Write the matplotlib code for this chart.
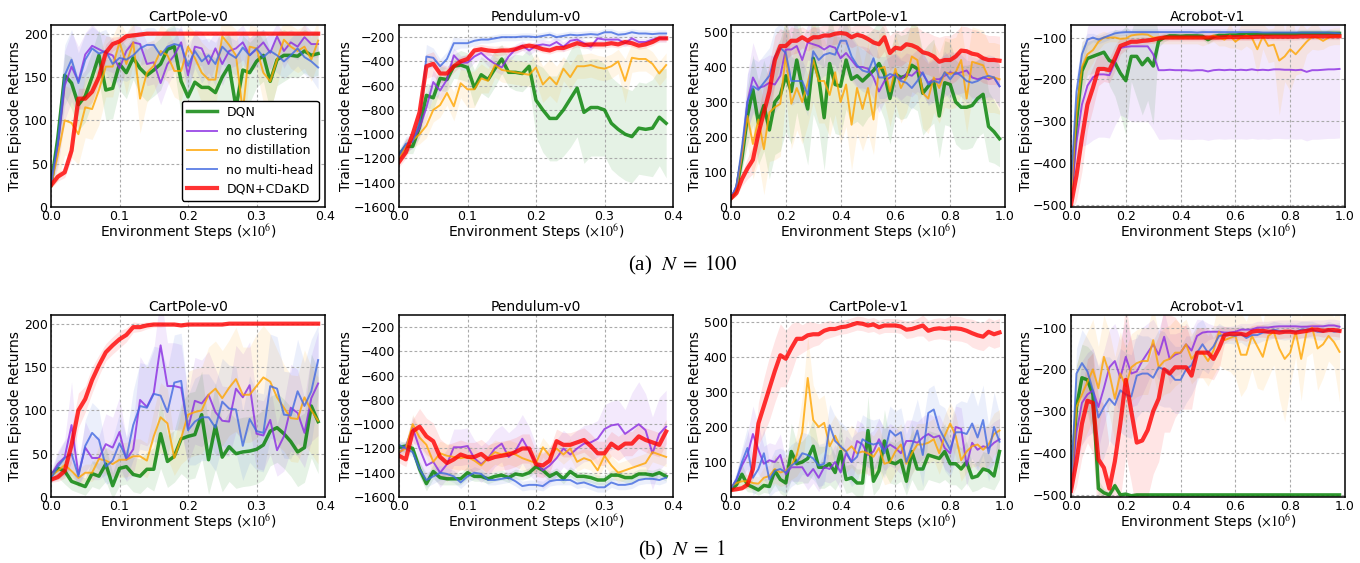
import numpy as np
import matplotlib
matplotlib.use('Agg')
from matplotlib import pyplot as plt

plt.rcParams['mathtext.fontset'] = 'stix'

labels = ['DQN', 'no clustering', 'no distillation', 'no multi-head', 'DQN+CDaKD']
colors = ['green', 'blueviolet', 'orange', 'royalblue', 'red']
widths = [2.5, 1.4, 1.4, 1.4, 3.0]

# ---------------- N = 100 ----------------
# CartPole-v0 (steps 0..0.39, every 0.01)
cp0_a_dqn = [25, 80, 152, 143, 118, 128, 150, 175, 135, 137,
             165, 155, 172, 160, 152, 158, 165, 182, 185, 145,
             127, 144, 138, 138, 132, 150, 163, 115, 158, 155,
             168, 175, 145, 170, 175, 175, 174, 180, 175, 177]
cp0_a_noclu = [25, 70, 140, 162, 145, 176, 186, 182, 178, 175,
               160, 180, 190, 188, 165, 167, 143, 165, 175, 190,
               152, 185, 183, 165, 183, 165, 180, 183, 190, 175,
               182, 190, 178, 197, 180, 190, 185, 196, 188, 188]
cp0_a_nodis = [25, 60, 100, 97, 84, 115, 113, 135, 162, 162,
               190, 165, 190, 125, 155, 163, 180, 175, 157, 157,
               185, 172, 155, 147, 147, 197, 187, 175, 110, 185,
               183, 155, 145, 170, 193, 185, 180, 185, 170, 192]
cp0_a_nomh = [25, 75, 152, 170, 143, 170, 183, 177, 180, 165,
              172, 170, 175, 183, 187, 187, 175, 185, 188, 186,
              163, 180, 168, 175, 165, 185, 177, 172, 184, 175,
              183, 173, 180, 175, 168, 175, 183, 173, 168, 161]
cp0_a_cdakd = [25, 35, 40, 65, 125, 125, 133, 150, 178, 188,
               191, 197, 198, 199, 200, 200, 200, 200, 200, 200,
               200, 200, 200, 200, 200, 200, 200, 200, 200, 200,
               200, 200, 200, 200, 200, 200, 200, 200, 200, 200]
cp0_a_dqn_sd = [3, 20, 25, 30, 30, 30, 30, 30, 35, 35,
                30, 30, 25, 30, 30, 30, 30, 25, 25, 40,
                40, 40, 40, 40, 40, 45, 40, 50, 40, 35,
                30, 30, 35, 30, 30, 25, 25, 25, 25, 25]
cp0_a_noclu_sd = [3, 25, 40, 40, 40, 25, 25, 20, 20, 20,
                  25, 20, 20, 20, 25, 25, 25, 25, 20, 20,
                  25, 20, 20, 25, 20, 25, 20, 20, 20, 20,
                  20, 15, 20, 15, 20, 15, 15, 15, 15, 15]
cp0_a_nodis_sd = [3, 30, 40, 40, 35, 35, 35, 40, 35, 35,
                  25, 35, 25, 40, 35, 30, 30, 30, 30, 35,
                  25, 30, 35, 35, 35, 20, 25, 30, 45, 25,
                  25, 35, 35, 30, 20, 25, 25, 25, 25, 25]
cp0_a_nomh_sd = [3, 25, 35, 35, 35, 30, 25, 25, 25, 25,
                 25, 25, 25, 20, 20, 20, 25, 20, 20, 20,
                 25, 20, 25, 20, 25, 20, 20, 20, 20, 20,
                 20, 20, 20, 20, 20, 20, 20, 20, 20, 25]
cp0_a_cdakd_sd = [3, 5, 6, 10, 12, 12, 12, 12, 10, 8,
                  6, 4, 3, 2, 2, 1, 1, 1, 1, 1,
                  1, 1, 1, 1, 1, 1, 1, 1, 1, 1,
                  1, 1, 1, 1, 1, 1, 1, 1, 1, 1]

# Pendulum-v0
pend_a_dqn = [-1170, -1100, -1100, -940, -680, -700, -540, -550, -440, -430,
              -450, -620, -510, -550, -460, -380, -490, -490, -500, -440,
              -720, -800, -870, -870, -800, -710, -620, -820, -780, -780,
              -800, -910, -960, -1000, -1020, -950, -960, -950, -860, -910]
pend_a_noclu = [-1190, -1100, -1050, -950, -780, -570, -640, -550, -350, -410,
                -410, -360, -330, -380, -420, -450, -360, -300, -270, -310,
                -270, -260, -270, -240, -280, -230, -220, -250, -280, -210,
                -220, -220, -220, -250, -210, -240, -240, -220, -210, -210]
pend_a_nodis = [-1200, -1100, -1050, -1000, -930, -800, -760, -660, -770, -580,
                -630, -630, -540, -560, -430, -470, -480, -490, -500, -510,
                -450, -590, -530, -590, -460, -530, -440, -440, -430, -450,
                -460, -440, -400, -560, -370, -380, -380, -420, -500, -430]
pend_a_nomh = [-1170, -1080, -1060, -900, -360, -370, -440, -380, -250, -250,
               -250, -230, -220, -220, -210, -200, -200, -200, -195, -195,
               -200, -190, -180, -200, -190, -180, -185, -180, -175, -180,
               -160, -160, -180, -175, -160, -170, -170, -175, -170, -170]
pend_a_cdakd = [-1230, -1150, -1000, -820, -440, -420, -500, -500, -440, -400,
                -380, -310, -300, -310, -315, -310, -310, -300, -280, -270,
                -280, -300, -310, -290, -290, -270, -250, -265, -260, -260,
                -260, -250, -260, -240, -250, -270, -260, -240, -210, -210]
pend_a_dqn_sd = [40, 60, 60, 80, 100, 100, 100, 100, 100, 120,
                 120, 150, 150, 150, 150, 120, 120, 150, 150, 150,
                 300, 350, 350, 350, 380, 400, 400, 420, 400, 400,
                 380, 380, 380, 380, 380, 380, 380, 400, 400, 450]
pend_a_noclu_sd = [40, 60, 60, 80, 100, 100, 80, 80, 60, 60,
                   60, 50, 50, 60, 60, 60, 50, 40, 40, 40,
                   40, 40, 40, 40, 40, 30, 30, 30, 30, 30,
                   30, 30, 30, 30, 30, 30, 30, 30, 30, 30]
pend_a_nodis_sd = [40, 60, 60, 80, 100, 100, 100, 100, 120, 120,
                   150, 150, 120, 100, 100, 100, 100, 100, 100, 100,
                   120, 150, 150, 150, 100, 100, 100, 100, 100, 100,
                   100, 100, 100, 180, 120, 100, 100, 100, 100, 100]
pend_a_nomh_sd = [40, 60, 60, 80, 100, 80, 60, 60, 60, 40,
                  40, 40, 30, 30, 30, 30, 30, 30, 30, 30,
                  30, 30, 30, 30, 30, 30, 30, 30, 30, 30,
                  30, 30, 30, 30, 30, 30, 30, 30, 30, 30]
pend_a_cdakd_sd = [40, 50, 60, 80, 100, 100, 80, 60, 50, 40,
                   40, 40, 40, 40, 40, 40, 30, 30, 30, 30,
                   30, 30, 30, 30, 30, 30, 30, 30, 30, 30,
                   30, 30, 30, 30, 30, 30, 30, 30, 30, 30]

# CartPole-v1 (steps 0..0.98, every 0.02)
cp1_a_dqn = [25, 50, 140, 260, 335, 240, 290, 220, 300, 320,
             375, 330, 420, 340, 280, 425, 370, 255, 410, 350,
             345, 420, 365, 375, 360, 375, 390, 410, 380, 310,
             380, 370, 375, 405, 395, 325, 345, 360, 260, 355,
             350, 300, 285, 285, 290, 310, 322, 230, 215, 195]
cp1_a_noclu = [25, 60, 150, 300, 370, 340, 345, 355, 350, 375,
               450, 450, 460, 420, 470, 465, 460, 450, 460, 455,
               425, 440, 420, 400, 400, 395, 370, 330, 360, 370,
               380, 365, 380, 375, 390, 380, 355, 365, 365, 375,
               385, 380, 385, 390, 370, 365, 370, 365, 370, 345]
cp1_a_nodis = [25, 50, 150, 260, 180, 250, 165, 270, 285, 295,
               435, 295, 340, 300, 355, 420, 360, 360, 320, 385,
               300, 350, 235, 340, 280, 340, 250, 395, 400, 330,
               395, 340, 370, 430, 420, 325, 310, 370, 340, 385,
               380, 385, 420, 310, 415, 410, 405, 370, 370, 365]
cp1_a_nomh = [25, 60, 170, 300, 345, 335, 355, 375, 430, 455,
              440, 360, 360, 360, 320, 445, 420, 435, 440, 435,
              475, 475, 430, 405, 390, 385, 425, 370, 370, 380,
              375, 360, 355, 340, 360, 385, 350, 360, 355, 385,
              365, 385, 375, 360, 355, 360, 370, 375, 370, 345]
cp1_a_cdakd = [25, 40, 80, 110, 135, 210, 270, 330, 420, 460,
               460, 475, 475, 485, 475, 485, 485, 490, 490, 495,
               497, 495, 485, 492, 488, 480, 470, 465, 485, 440,
               455, 452, 465, 462, 455, 442, 438, 430, 415, 420,
               420, 430, 447, 445, 438, 435, 425, 420, 420, 418]
cp1_a_dqn_sd = [5, 15, 40, 80, 100, 120, 130, 140, 150, 160,
                160, 150, 150, 150, 160, 160, 150, 150, 150, 140,
                140, 140, 130, 130, 130, 120, 120, 120, 130, 130,
                120, 120, 120, 120, 120, 120, 120, 120, 120, 120,
                120, 120, 120, 120, 120, 110, 110, 100, 90, 80]
cp1_a_noclu_sd = [5, 15, 40, 80, 100, 80, 80, 80, 80, 80,
                  70, 70, 60, 60, 50, 50, 50, 50, 50, 50,
                  60, 60, 60, 60, 60, 60, 60, 60, 60, 60,
                  60, 60, 60, 60, 60, 60, 60, 60, 60, 60,
                  60, 60, 60, 60, 60, 60, 60, 60, 60, 60]
cp1_a_nodis_sd = [5, 15, 40, 80, 100, 120, 130, 140, 150, 150,
                  120, 130, 120, 120, 120, 120, 120, 120, 120, 120,
                  120, 120, 130, 130, 120, 130, 100, 100, 100, 100,
                  100, 100, 100, 100, 100, 100, 100, 100, 100, 100,
                  100, 100, 100, 100, 100, 100, 100, 100, 100, 100]
cp1_a_nomh_sd = [5, 15, 40, 80, 80, 80, 80, 80, 80, 70,
                 70, 70, 60, 60, 60, 60, 60, 60, 60, 60,
                 50, 50, 60, 60, 60, 60, 60, 60, 60, 60,
                 60, 60, 60, 60, 60, 60, 60, 60, 60, 60,
                 60, 60, 60, 60, 60, 60, 60, 60, 60, 60]
cp1_a_cdakd_sd = [5, 10, 20, 30, 40, 60, 80, 80, 70, 50,
                  40, 40, 35, 30, 30, 30, 30, 30, 30, 30,
                  30, 30, 30, 30, 35, 40, 40, 40, 40, 50,
                  50, 50, 50, 50, 60, 60, 60, 60, 70, 70,
                  70, 70, 70, 70, 70, 70, 70, 70, 70, 70]

# Acrobot-v1
acro_a_dqn = [-480, -300, -180, -150, -145, -140, -135, -155, -160, -185,
              -203, -145, -145, -165, -150, -168, -108, -100, -96, -96,
              -97, -96, -96, -96, -97, -105, -98, -95, -95, -94,
              -94, -93, -93, -92, -92, -92, -92, -91, -91, -91,
              -91, -91, -90, -90, -90, -90, -90, -90, -90, -90]
acro_a_noclu = [-490, -350, -260, -215, -195, -188, -188, -190, -160, -125,
                -122, -121, -121, -121, -121, -140, -178, -178, -177, -178,
                -178, -178, -179, -178, -178, -181, -178, -177, -178, -177,
                -178, -177, -178, -176, -178, -177, -178, -176, -176, -177,
                -177, -178, -177, -182, -178, -178, -177, -176, -176, -175]
acro_a_nodis = [-480, -280, -170, -140, -130, -110, -100, -100, -100, -103,
                -102, -95, -93, -92, -93, -100, -100, -100, -100, -100,
                -100, -100, -100, -100, -100, -100, -95, -100, -105, -95,
                -110, -100, -95, -100, -128, -97, -120, -117, -155, -145,
                -128, -140, -125, -110, -98, -100, -108, -100, -97, -97]
acro_a_nomh = [-450, -230, -140, -105, -100, -105, -100, -95, -90, -88,
               -87, -87, -87, -87, -87, -87, -87, -87, -87, -87,
               -87, -87, -87, -88, -87, -87, -87, -87, -87, -87,
               -87, -87, -87, -87, -87, -88, -88, -88, -88, -88,
               -88, -88, -88, -88, -88, -88, -88, -88, -89, -90]
acro_a_cdakd = [-500, -430, -340, -260, -220, -175, -175, -178, -150, -120,
                -115, -110, -110, -108, -107, -105, -102, -100, -100, -100,
                -100, -100, -100, -100, -100, -100, -100, -100, -99, -99,
                -99, -99, -99, -99, -98, -98, -98, -98, -98, -98,
                -98, -98, -97, -97, -97, -97, -97, -97, -97, -97]
acro_a_dqn_sd = [20, 60, 60, 40, 40, 40, 40, 60, 80, 100,
                 130, 60, 100, 120, 100, 140, 15, 10, 8, 8,
                 8, 8, 8, 8, 8, 10, 8, 8, 8, 8,
                 8, 8, 8, 8, 8, 8, 8, 8, 8, 8,
                 8, 8, 8, 8, 8, 8, 8, 8, 8, 8]
acro_a_noclu_sd = [20, 60, 100, 140, 150, 150, 150, 150, 150, 160,
                   170, 180, 180, 180, 180, 180, 165, 165, 165, 165,
                   165, 165, 165, 165, 165, 165, 165, 165, 165, 165,
                   165, 165, 165, 165, 165, 165, 165, 165, 165, 165,
                   165, 165, 165, 165, 165, 165, 165, 165, 165, 165]
acro_a_nodis_sd = [20, 60, 60, 40, 30, 20, 15, 10, 10, 10,
                   10, 10, 10, 10, 10, 15, 15, 15, 15, 15,
                   15, 15, 15, 15, 20, 15, 15, 20, 15, 30,
                   15, 30, 25, 30, 60, 30, 40, 40, 130, 60,
                   100, 50, 60, 30, 30, 30, 20, 20, 20, 20]
acro_a_nomh_sd = [20, 40, 30, 15, 10, 10, 10, 10, 8, 8,
                  8, 8, 8, 8, 8, 8, 8, 8, 8, 8,
                  8, 8, 8, 8, 8, 8, 8, 8, 8, 8,
                  8, 8, 8, 8, 8, 8, 8, 8, 8, 8,
                  8, 8, 8, 8, 8, 8, 8, 8, 8, 8]
acro_a_cdakd_sd = [20, 60, 80, 60, 50, 40, 30, 30, 30, 20,
                   15, 10, 10, 10, 8, 8, 8, 8, 8, 8,
                   8, 8, 8, 8, 8, 8, 8, 8, 8, 8,
                   8, 8, 8, 8, 8, 8, 8, 8, 8, 8,
                   8, 8, 8, 8, 8, 8, 8, 8, 8, 8]

# ---------------- N = 1 ----------------
cp0_b_dqn = [25, 33, 30, 18, 15, 12, 27, 24, 38, 13,
             33, 35, 26, 24, 32, 32, 73, 41, 47, 67,
             70, 72, 95, 43, 82, 46, 58, 50, 52, 53,
             55, 60, 76, 80, 73, 64, 52, 57, 105, 87]
cp0_b_noclu = [25, 38, 46, 83, 26, 57, 45, 45, 61, 57,
               75, 43, 55, 112, 104, 120, 175, 128, 128, 126,
               79, 111, 108, 118, 98, 88, 87, 125, 115, 129,
               73, 71, 89, 54, 70, 103, 97, 74, 114, 131]
cp0_b_nodis = [25, 30, 37, 30, 22, 28, 28, 44, 42, 38,
               43, 43, 47, 47, 42, 70, 92, 85, 45, 68,
               95, 98, 100, 118, 125, 114, 126, 136, 118, 118,
               128, 138, 133, 115, 103, 91, 90, 115, 100, 88]
cp0_b_nomh = [22, 35, 45, 50, 24, 59, 74, 66, 35, 42,
              62, 45, 83, 105, 103, 119, 117, 98, 132, 134,
              77, 87, 92, 92, 80, 110, 102, 101, 59, 90,
              76, 74, 128, 125, 95, 94, 122, 105, 122, 158]
cp0_b_cdakd = [20, 23, 30, 60, 100, 113, 135, 152, 167, 175,
               182, 187, 196, 196, 198, 199, 199, 199, 199, 198,
               199, 199, 199, 199, 199, 199, 200, 200, 200, 200,
               200, 200, 200, 200, 200, 200, 200, 200, 200, 200]
cp0_b_dqn_sd = [5, 10, 15, 10, 10, 10, 15, 15, 20, 15,
                20, 20, 20, 20, 20, 25, 40, 30, 30, 40,
                50, 50, 50, 40, 50, 40, 40, 40, 40, 40,
                40, 40, 40, 40, 40, 40, 40, 40, 60, 60]
cp0_b_noclu_sd = [5, 15, 20, 50, 15, 30, 25, 25, 35, 35,
                  40, 25, 30, 50, 45, 50, 60, 50, 50, 50,
                  40, 50, 50, 50, 50, 40, 40, 50, 50, 50,
                  40, 40, 40, 30, 40, 50, 50, 40, 50, 60]
cp0_b_nodis_sd = [5, 10, 10, 10, 10, 10, 10, 15, 15, 15,
                  20, 20, 20, 20, 20, 30, 40, 40, 20, 30,
                  50, 50, 50, 55, 55, 55, 55, 60, 55, 55,
                  60, 60, 55, 55, 50, 50, 50, 55, 50, 50]
cp0_b_nomh_sd = [5, 15, 20, 25, 10, 30, 35, 35, 20, 25,
                 35, 25, 40, 50, 50, 55, 55, 50, 55, 55,
                 40, 50, 50, 50, 50, 50, 50, 50, 40, 50,
                 45, 45, 60, 60, 50, 50, 60, 50, 60, 40]
cp0_b_cdakd_sd = [3, 5, 8, 20, 20, 15, 15, 12, 10, 10,
                  10, 8, 6, 5, 4, 3, 3, 2, 2, 2,
                  2, 1, 1, 1, 1, 1, 1, 1, 1, 1,
                  1, 1, 1, 1, 1, 1, 1, 1, 1, 1]

pend_b_dqn = [-1190, -1180, -1200, -1370, -1490, -1390, -1440, -1450, -1450, -1450,
              -1400, -1430, -1430, -1450, -1430, -1420, -1440, -1410, -1420, -1400,
              -1350, -1380, -1430, -1400, -1450, -1390, -1430, -1430, -1440, -1460,
              -1460, -1420, -1420, -1440, -1440, -1410, -1410, -1420, -1400, -1430]
pend_b_noclu = [-1240, -1180, -1030, -1200, -1340, -1310, -1400, -1330, -1190, -1190,
                -1180, -1280, -1330, -1280, -1200, -1160, -1270, -1220, -1120, -1220,
                -1320, -1380, -1340, -1280, -1200, -1250, -1200, -1160, -1150, -1120,
                -1040, -1010, -1000, -1080, -1040, -1000, -1050, -1240, -1080, -1020]
pend_b_nodis = [-1230, -1200, -1000, -1110, -1170, -1310, -1240, -1260, -1270, -1280,
                -1270, -1300, -1340, -1280, -1230, -1250, -1230, -1250, -1280, -1300,
                -1320, -1190, -1260, -1200, -1250, -1200, -1310, -1280, -1300, -1380,
                -1260, -1340, -1400, -1380, -1360, -1340, -1320, -1230, -1250, -1270]
pend_b_nomh = [-1170, -1200, -1230, -1370, -1460, -1430, -1400, -1410, -1430, -1480,
               -1430, -1400, -1410, -1460, -1460, -1450, -1440, -1470, -1510, -1500,
               -1500, -1510, -1470, -1460, -1460, -1460, -1490, -1480, -1500, -1520,
               -1520, -1480, -1500, -1500, -1490, -1460, -1450, -1450, -1460, -1440]
pend_b_cdakd = [-1260, -1290, -1060, -1020, -1100, -1140, -1270, -1320, -1290, -1250,
                -1270, -1270, -1245, -1290, -1270, -1260, -1250, -1230, -1200, -1200,
                -1330, -1340, -1300, -1140, -1170, -1170, -1150, -1130, -1180, -1240,
                -1240, -1160, -1200, -1160, -1160, -1100, -1130, -1150, -1170, -1060]
pend_b_dqn_sd = [40, 40, 40, 60, 60, 60, 60, 50, 50, 50,
                 50, 40, 40, 40, 40, 40, 40, 40, 40, 40,
                 40, 40, 40, 40, 40, 40, 40, 40, 40, 40,
                 40, 40, 40, 40, 40, 40, 40, 40, 40, 40]
pend_b_noclu_sd = [40, 40, 100, 120, 120, 120, 120, 120, 150, 150,
                   150, 150, 150, 150, 150, 150, 200, 200, 200, 200,
                   150, 150, 150, 150, 150, 150, 150, 150, 150, 150,
                   200, 200, 200, 200, 300, 350, 300, 300, 300, 300]
pend_b_nodis_sd = [40, 40, 80, 80, 100, 100, 100, 100, 100, 100,
                   100, 100, 100, 100, 100, 100, 100, 100, 100, 100,
                   80, 80, 80, 80, 80, 80, 80, 80, 80, 80,
                   80, 80, 80, 80, 80, 80, 80, 80, 80, 80]
pend_b_nomh_sd = [40, 40, 40, 60, 60, 60, 60, 50, 50, 50,
                  50, 50, 40, 40, 40, 40, 40, 40, 40, 40,
                  40, 40, 40, 40, 40, 40, 40, 40, 40, 40,
                  40, 40, 40, 40, 40, 40, 40, 40, 40, 40]
pend_b_cdakd_sd = [60, 60, 100, 150, 150, 150, 150, 150, 140, 120,
                   120, 120, 120, 120, 120, 120, 120, 120, 120, 120,
                   100, 100, 100, 100, 100, 100, 100, 100, 100, 100,
                   100, 100, 100, 100, 100, 100, 100, 100, 100, 100]

cp1_b_dqn = [20, 35, 65, 35, 28, 20, 33, 30, 75, 50,
             40, 130, 95, 100, 110, 145, 85, 85, 95, 70,
             130, 50, 55, 40, 40, 190, 45, 75, 160, 100,
             95, 105, 45, 130, 80, 80, 120, 115, 110, 130,
             95, 95, 80, 100, 55, 60, 80, 75, 60, 130]
cp1_b_noclu = [25, 50, 90, 120, 180, 135, 95, 105, 100, 120,
               65, 85, 85, 85, 60, 80, 55, 85, 80, 100,
               70, 125, 100, 160, 150, 120, 130, 165, 135, 150,
               140, 125, 160, 160, 155, 170, 180, 170, 175, 140,
               125, 200, 195, 90, 155, 135, 145, 140, 155, 165]
cp1_b_nodis = [30, 40, 45, 45, 40, 38, 55, 60, 80, 70,
               75, 90, 120, 185, 340, 220, 200, 212, 145, 175,
               140, 130, 145, 125, 130, 125, 115, 140, 95, 100,
               130, 150, 95, 125, 150, 150, 155, 165, 125, 175,
               210, 175, 105, 130, 145, 150, 135, 150, 180, 190]
cp1_b_nomh = [25, 50, 100, 140, 55, 80, 125, 50, 75, 80,
              70, 90, 100, 125, 120, 110, 90, 95, 205, 160,
              145, 130, 100, 115, 165, 155, 150, 155, 125, 190,
              175, 185, 100, 145, 190, 120, 240, 250, 195, 165,
              135, 185, 185, 180, 210, 170, 220, 125, 200, 158]
cp1_b_cdakd = [20, 22, 25, 35, 80, 210, 260, 310, 360, 405,
               395, 425, 452, 452, 462, 465, 465, 475, 480, 480,
               485, 487, 492, 497, 495, 490, 493, 485, 490, 490,
               490, 487, 478, 480, 485, 490, 475, 480, 482, 480,
               482, 482, 480, 475, 468, 462, 458, 472, 465, 470]
cp1_b_dqn_sd = [5, 15, 30, 20, 15, 15, 20, 20, 40, 40,
                40, 80, 60, 60, 70, 80, 60, 60, 60, 50,
                80, 40, 40, 40, 40, 100, 40, 50, 90, 60,
                60, 60, 40, 80, 60, 60, 70, 70, 70, 80,
                60, 60, 60, 60, 40, 40, 50, 50, 40, 80]
cp1_b_noclu_sd = [5, 20, 40, 60, 80, 70, 50, 50, 50, 60,
                  40, 40, 40, 40, 40, 40, 40, 40, 40, 50,
                  50, 50, 60, 60, 60, 60, 60, 60, 60, 60,
                  60, 60, 60, 60, 60, 60, 60, 60, 60, 60,
                  60, 60, 60, 60, 60, 60, 60, 60, 60, 60]
cp1_b_nodis_sd = [5, 15, 20, 20, 20, 20, 30, 30, 40, 40,
                  40, 40, 60, 100, 120, 100, 80, 80, 60, 60,
                  60, 60, 60, 60, 60, 60, 60, 60, 60, 60,
                  60, 60, 60, 60, 60, 60, 60, 60, 60, 60,
                  60, 60, 60, 60, 60, 60, 60, 60, 60, 60]
cp1_b_nomh_sd = [5, 20, 40, 60, 50, 60, 70, 50, 60, 60,
                 60, 60, 60, 60, 60, 60, 60, 60, 60, 70,
                 70, 70, 70, 70, 70, 70, 70, 70, 70, 70,
                 70, 70, 80, 80, 90, 90, 70, 70, 70, 90,
                 80, 80, 90, 90, 100, 90, 100, 80, 100, 80]
cp1_b_cdakd_sd = [3, 3, 5, 10, 30, 60, 80, 90, 90, 90,
                  80, 70, 50, 40, 40, 35, 30, 25, 25, 20,
                  20, 20, 20, 20, 20, 20, 20, 20, 20, 20,
                  20, 20, 25, 25, 25, 30, 30, 30, 30, 30,
                  35, 35, 35, 35, 40, 40, 40, 40, 40, 40]

acro_b_dqn = [-480, -290, -220, -225, -260, -485, -495, -500, -478, -500,
              -498, -502, -500, -500, -500, -500, -500, -500, -500, -500,
              -500, -500, -500, -500, -500, -500, -500, -500, -500, -500,
              -500, -500, -500, -500, -500, -500, -500, -500, -500, -500,
              -500, -500, -500, -500, -500, -500, -500, -500, -500, -500]
acro_b_noclu = [-490, -350, -280, -260, -250, -290, -245, -195, -180, -220,
                -170, -210, -205, -180, -160, -140, -165, -122, -175, -165,
                -160, -140, -155, -120, -112, -110, -110, -110, -112, -112,
                -110, -105, -105, -105, -100, -100, -100, -98, -97, -97,
                -97, -97, -98, -98, -97, -97, -97, -95, -95, -98]
acro_b_nodis = [-480, -290, -260, -230, -200, -245, -170, -210, -270, -210,
                -240, -195, -185, -180, -180, -130, -195, -180, -175, -160,
                -160, -140, -175, -160, -160, -180, -155, -110, -130, -125,
                -120, -165, -165, -120, -145, -170, -120, -110, -150, -175,
                -160, -110, -175, -110, -100, -150, -140, -120, -135, -158]
acro_b_nomh = [-480, -210, -185, -205, -250, -315, -290, -270, -285, -250,
               -260, -265, -215, -210, -210, -220, -195, -200, -210, -225,
               -225, -200, -190, -160, -140, -160, -145, -120, -118, -118,
               -120, -115, -125, -118, -118, -112, -110, -105, -108, -110,
               -108, -110, -105, -105, -105, -110, -110, -105, -110, -108]
acro_b_cdakd = [-490, -420, -330, -275, -280, -415, -435, -485, -420, -330,
                -225, -300, -375, -370, -345, -300, -270, -200, -210, -195,
                -195, -195, -215, -160, -160, -160, -175, -150, -118, -115,
                -115, -115, -118, -110, -108, -108, -110, -110, -112, -110,
                -110, -112, -110, -108, -105, -105, -108, -106, -106, -108]
acro_b_dqn_sd = [20, 100, 80, 80, 100, 20, 10, 5, 10, 5,
                 3, 3, 3, 2, 2, 2, 2, 2, 2, 2,
                 2, 2, 2, 2, 2, 2, 2, 2, 2, 2,
                 2, 2, 2, 2, 2, 2, 2, 2, 2, 2,
                 2, 2, 2, 2, 2, 2, 2, 2, 2, 2]
acro_b_noclu_sd = [20, 80, 100, 100, 100, 100, 90, 90, 90, 90,
                   90, 80, 80, 80, 70, 60, 60, 60, 60, 50,
                   50, 50, 50, 40, 30, 20, 15, 15, 15, 15,
                   15, 15, 15, 15, 15, 15, 15, 15, 15, 15,
                   15, 15, 15, 15, 15, 15, 15, 15, 15, 15]
acro_b_nodis_sd = [20, 100, 120, 120, 120, 100, 100, 100, 100, 100,
                   90, 80, 80, 80, 80, 80, 80, 80, 80, 80,
                   70, 60, 60, 60, 60, 60, 60, 80, 70, 80,
                   100, 100, 80, 80, 100, 80, 100, 80, 120, 150,
                   80, 60, 100, 60, 60, 100, 80, 60, 60, 120]
acro_b_nomh_sd = [20, 60, 80, 80, 100, 120, 120, 100, 100, 100,
                  100, 100, 100, 90, 90, 90, 90, 90, 80, 80,
                  80, 80, 70, 70, 60, 50, 40, 30, 20, 20,
                  20, 20, 20, 20, 20, 20, 20, 20, 20, 20,
                  20, 20, 20, 20, 20, 20, 20, 20, 20, 20]
acro_b_cdakd_sd = [20, 60, 80, 100, 120, 150, 150, 100, 150, 180,
                   180, 170, 170, 170, 160, 150, 150, 150, 140, 120,
                   100, 100, 80, 60, 60, 60, 50, 50, 20, 15,
                   15, 15, 15, 15, 15, 15, 15, 15, 15, 15,
                   15, 15, 15, 15, 15, 15, 15, 15, 15, 15]

panels = [
    ('CartPole-v0', 0.01, (0, 210), np.arange(0, 201, 50), np.arange(0, 0.41, 0.1),
     [cp0_a_dqn, cp0_a_noclu, cp0_a_nodis, cp0_a_nomh, cp0_a_cdakd],
     [cp0_a_dqn_sd, cp0_a_noclu_sd, cp0_a_nodis_sd, cp0_a_nomh_sd, cp0_a_cdakd_sd]),
    ('Pendulum-v0', 0.01, (-1600, -100), np.arange(-1600, -199, 200), np.arange(0, 0.41, 0.1),
     [pend_a_dqn, pend_a_noclu, pend_a_nodis, pend_a_nomh, pend_a_cdakd],
     [pend_a_dqn_sd, pend_a_noclu_sd, pend_a_nodis_sd, pend_a_nomh_sd, pend_a_cdakd_sd]),
    ('CartPole-v1', 0.02, (0, 520), np.arange(0, 501, 100), np.arange(0, 1.01, 0.2),
     [cp1_a_dqn, cp1_a_noclu, cp1_a_nodis, cp1_a_nomh, cp1_a_cdakd],
     [cp1_a_dqn_sd, cp1_a_noclu_sd, cp1_a_nodis_sd, cp1_a_nomh_sd, cp1_a_cdakd_sd]),
    ('Acrobot-v1', 0.02, (-505, -70), np.arange(-500, -99, 100), np.arange(0, 1.01, 0.2),
     [acro_a_dqn, acro_a_noclu, acro_a_nodis, acro_a_nomh, acro_a_cdakd],
     [acro_a_dqn_sd, acro_a_noclu_sd, acro_a_nodis_sd, acro_a_nomh_sd, acro_a_cdakd_sd]),
    ('CartPole-v0', 0.01, (0, 210), np.arange(0, 201, 50), np.arange(0, 0.41, 0.1),
     [cp0_b_dqn, cp0_b_noclu, cp0_b_nodis, cp0_b_nomh, cp0_b_cdakd],
     [cp0_b_dqn_sd, cp0_b_noclu_sd, cp0_b_nodis_sd, cp0_b_nomh_sd, cp0_b_cdakd_sd]),
    ('Pendulum-v0', 0.01, (-1600, -100), np.arange(-1600, -199, 200), np.arange(0, 0.41, 0.1),
     [pend_b_dqn, pend_b_noclu, pend_b_nodis, pend_b_nomh, pend_b_cdakd],
     [pend_b_dqn_sd, pend_b_noclu_sd, pend_b_nodis_sd, pend_b_nomh_sd, pend_b_cdakd_sd]),
    ('CartPole-v1', 0.02, (0, 520), np.arange(0, 501, 100), np.arange(0, 1.01, 0.2),
     [cp1_b_dqn, cp1_b_noclu, cp1_b_nodis, cp1_b_nomh, cp1_b_cdakd],
     [cp1_b_dqn_sd, cp1_b_noclu_sd, cp1_b_nodis_sd, cp1_b_nomh_sd, cp1_b_cdakd_sd]),
    ('Acrobot-v1', 0.02, (-505, -70), np.arange(-500, -99, 100), np.arange(0, 1.01, 0.2),
     [acro_b_dqn, acro_b_noclu, acro_b_nodis, acro_b_nomh, acro_b_cdakd],
     [acro_b_dqn_sd, acro_b_noclu_sd, acro_b_nodis_sd, acro_b_nomh_sd, acro_b_cdakd_sd]),
]

W, H = 1360.0, 563.0
lefts = [51, 399, 731, 1071]
tops = [25, 315]
aw, ah = 274, 182
ylab_x = [-0.106, -0.168, -0.106, -0.139]

fig = plt.figure(figsize=(13.6, 5.63), dpi=100)

for k, (title, step, ylim, yticks, xticks, means, sds) in enumerate(panels):
    row, col = divmod(k, 4)
    ax = fig.add_axes([lefts[col] / W, 1 - (tops[row] + ah) / H, aw / W, ah / H])
    for m, s, c, lw, lab in zip(means, sds, colors, widths, labels):
        m = np.array(m, dtype=float)
        s = np.array(s, dtype=float)
        x = np.arange(len(m)) * step
        ax.fill_between(x, m - s, m + s, color=c, alpha=0.1, lw=0)
        ax.plot(x, m, color=c, lw=lw, alpha=0.8, label=lab)
    ax.set_xlim(xticks[0], xticks[-1])
    ax.set_ylim(*ylim)
    ax.set_xticks(xticks)
    ax.set_yticks(yticks)
    ax.tick_params(labelsize=9, length=0, pad=2.5)
    ax.grid(True, ls=(0, (2.5, 2)), color='#aaaaaa', lw=0.8)
    for sp in ax.spines.values():
        sp.set_linewidth(1.1)
    ax.set_title(title, fontsize=10, pad=3)
    ax.set_xlabel(r'Environment Steps ($\times10^6$)', fontsize=10, labelpad=-1)
    ax.set_ylabel('Train Episode Returns', fontsize=10)
    ax.yaxis.set_label_coords(ylab_x[col], 0.5)
    if k == 0:
        ax.legend(loc='lower right', fontsize=9, handlelength=2.4,
                  edgecolor='black', framealpha=1)

fig.text(682 / W, 1 - 265 / H, r'(a)  $N\;=\;100$', ha='center', va='center',
         fontsize=15, family='Liberation Serif')
fig.text(682 / W, 1 - 550 / H, r'(b)  $N\;=\;1$', ha='center', va='center',
         fontsize=15, family='Liberation Serif')

fig.savefig('out.png', dpi=100)
